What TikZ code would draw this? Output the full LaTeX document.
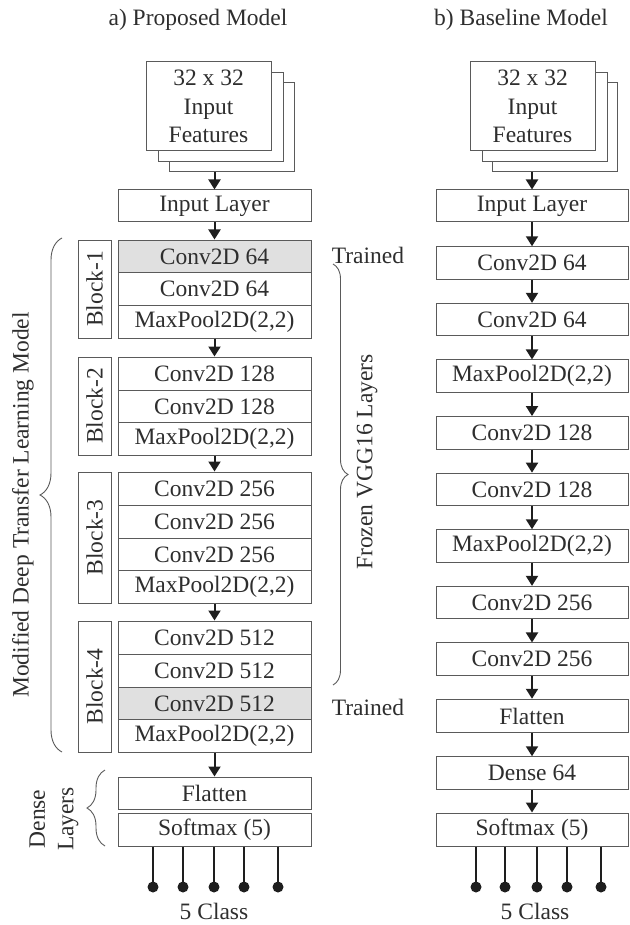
\documentclass[tikz,border=0pt]{standalone}
\usepackage{fontspec}
\setmainfont{Liberation Serif}
\usetikzlibrary{arrows.meta,decorations.pathreplacing}
\definecolor{ln}{HTML}{5A5A5A}
\definecolor{tx}{HTML}{2E2E2E}
\definecolor{gr}{HTML}{E0E0E0}
\definecolor{ar}{HTML}{1E1E1E}
\newcommand\fs{\fontsize{23.5}{28.5}\selectfont}
\begin{document}
\begin{tikzpicture}[x=1pt,y=-1pt,
  lay/.style={draw=ln, line width=1pt, fill=white, minimum width=193pt, minimum height=33pt, inner sep=0pt, text=tx, font=\fs},
  layr/.style={lay, minimum width=192pt, minimum height=32.5pt},
  trained/.style={fill=gr},
  inbox/.style={draw=ln, line width=1pt, fill=white, minimum width=125pt, minimum height=89pt, inner sep=0pt, text=tx, font=\fs, align=center},
  blk/.style={draw=ln, line width=1pt, rotate=90, minimum height=33pt, inner sep=0pt, text=tx, font=\fs},
  lbl/.style={text=tx, font=\fs, inner sep=0pt},
  flow/.style={draw=ar, line width=2pt, -{Triangle[length=10pt,width=12pt]}},
  outl/.style={draw=ar, line width=2.4pt},
  dot/.style={circle, fill=ar, minimum size=11pt, inner sep=0pt},
  brc/.style={draw=ln, line width=0.9pt, decorate}
]
\useasboundingbox (0,0) rectangle (629,925);

% titles
\node[lbl] (ta) at (198,20) {a) Proposed Model};
\node[lbl] (tb) at (521,20) {b) Baseline Model};

% ---------- left column ----------
\node[inbox] (in3) at (231.5,127.5) {};
\node[inbox] (in2) at (220.5,117) {};
\node[inbox] (in1) at (208.5,106.5) {32 x 32\\Input\\Features};
\node[lay, minimum height=32pt] (il) at (214.5,206) {Input Layer};

\node[lay, trained] (b1a) at (214.5,256.5) {Conv2D 64};
\node[lay] (b1b) at (214.5,289) {Conv2D 64};
\node[lay] (b1c) at (214.5,321.5) {MaxPool2D(2,2)};

\node[lay] (b2a) at (214.5,373.5) {Conv2D 128};
\node[lay] (b2b) at (214.5,406.5) {Conv2D 128};
\node[lay] (b2c) at (214.5,439) {MaxPool2D(2,2)};

\node[lay] (b3a) at (214.5,488.5) {Conv2D 256};
\node[lay] (b3b) at (214.5,521.5) {Conv2D 256};
\node[lay] (b3c) at (214.5,554.5) {Conv2D 256};
\node[lay] (b3d) at (214.5,587) {MaxPool2D(2,2)};

\node[lay] (b4a) at (214.5,637.5) {Conv2D 512};
\node[lay] (b4b) at (214.5,670.5) {Conv2D 512};
\node[lay, trained] (b4c) at (214.5,703.5) {Conv2D 512};
\node[lay] (b4d) at (214.5,736) {MaxPool2D(2,2)};

\node[lay, minimum height=32pt] (fl) at (214.5,793) {Flatten};
\node[lay] (sm) at (214.5,829.5) {Softmax (5)};

% block labels
\node[blk, minimum width=98pt] (k1) at (94.5,289) {Block-1};
\node[blk, minimum width=98pt] (k2) at (94.5,406) {Block-2};
\node[blk, minimum width=131pt] (k3) at (94.5,537.5) {Block-3};
\node[blk, minimum width=131pt] (k4) at (94.5,686.5) {Block-4};

% arrows left
\draw[flow] (il.north |- in3.south) -- (il.north);
\draw[flow] (il) -- (b1a);
\draw[flow] (b1c) -- (b2a);
\draw[flow] (b2c) -- (b3a);
\draw[flow] (b3d) -- (b4a);
\draw[flow] (b4d) -- (fl);

% braces left
\coordinate (mbA) at (62,752);
\coordinate (mbB) at (62,238);
\draw[brc, decoration={brace, amplitude=22pt}] (mbA) -- (mbB);
\node[lbl, rotate=90] (mdl) at (23,505) {Modified Deep Transfer Learning Model};

\coordinate (dbA) at (105,846);
\coordinate (dbB) at (105,770);
\draw[brc, decoration={brace, amplitude=18pt}] (dbA) -- (dbB);
\node[lbl, rotate=90, align=center] (dns) at (54,819) {Dense\\Layers};

\coordinate (fbA) at (333,264);
\coordinate (fbB) at (333,685);
\draw[brc, decoration={brace, amplitude=15pt}] (fbA) -- (fbB);
\node[lbl, rotate=90] (frz) at (367,462) {Frozen VGG16 Layers};

\node[lbl] (tr1) at (368,255) {Trained};
\node[lbl] (tr2) at (368,707) {Trained};

% outputs left
\foreach \x/\n in {153/1,183/2,214/3,244/4,278/5}{
  \node[dot] (la\n) at (\x,887) {};
  \draw[outl] (\x,0 |- sm.south) -- (la\n.center);
}
\node[lbl] (c5a) at (214,911) {5 Class};

% ---------- right column ----------
\node[inbox] (rn3) at (555,127.5) {};
\node[inbox] (rn2) at (544.5,117) {};
\node[inbox] (rn1) at (532.5,106.5) {32 x 32\\Input\\Features};
\node[layr, minimum height=32pt] (ril) at (532,206) {Input Layer};

\node[layr] (r1) at (532,263) {Conv2D 64};
\node[layr] (r2) at (532,319.6) {Conv2D 64};
\node[layr] (r3) at (532,376.2) {MaxPool2D(2,2)};
\node[layr] (r4) at (532,432.8) {Conv2D 128};
\node[layr] (r5) at (532,489.4) {Conv2D 128};
\node[layr] (r6) at (532,546) {MaxPool2D(2,2)};
\node[layr] (r7) at (532,602.6) {Conv2D 256};
\node[layr] (r8) at (532,659.2) {Conv2D 256};
\node[layr, minimum height=33.5pt] (r9) at (532,716) {Flatten};
\node[layr] (r10) at (532,773) {Dense 64};
\node[layr, minimum height=33pt] (r11) at (532,829.5) {Softmax (5)};

\draw[flow] (ril.north |- rn3.south) -- (ril.north);
\draw[flow] (ril) -- (r1);
\foreach \a/\b in {r1/r2,r2/r3,r3/r4,r4/r5,r5/r6,r6/r7,r7/r8,r8/r9,r9/r10,r10/r11}{
  \draw[flow] (\a) -- (\b);
}

\foreach \x/\n in {476/1,505/2,537/3,567/4,601/5}{
  \node[dot] (ra\n) at (\x,887) {};
  \draw[outl] (\x,0 |- r11.south) -- (ra\n.center);
}
\node[lbl] (c5b) at (535,911) {5 Class};
\end{tikzpicture}
\end{document}
